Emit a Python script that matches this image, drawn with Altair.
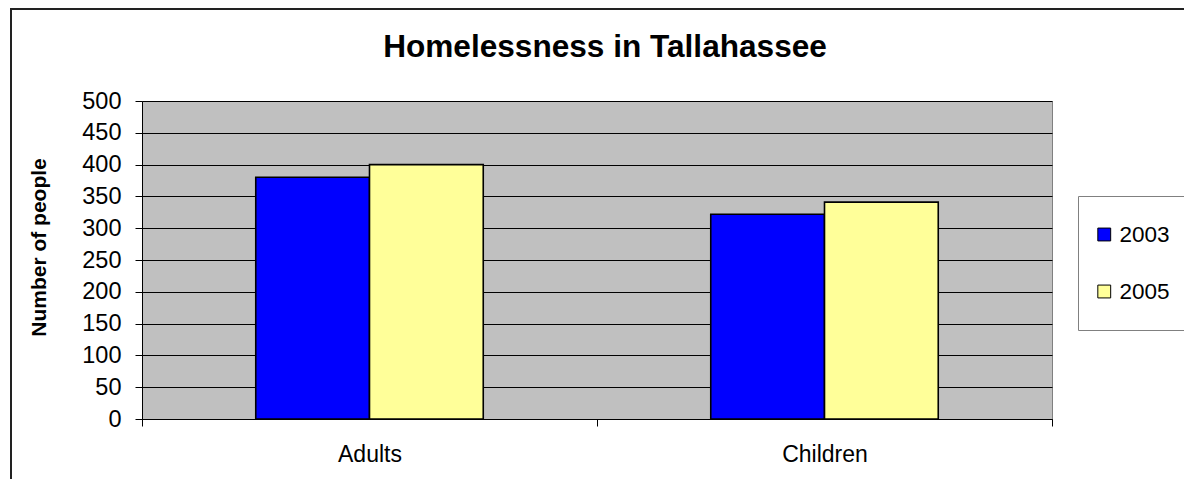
import altair as alt
import pandas as pd

groups = ["Adults", "Adults", "Children", "Children"]
years = ["2003", "2005", "2003", "2005"]
people = [380, 400, 322, 341]
group_order = ["Adults", "Children"]
year_domain = ["2003", "2005"]
year_colors = ["#0000ff", "#ffff99"]
y_ticks = [0, 50, 100, 150, 200, 250, 300, 350, 400, 450, 500]
chart_title = "Homelessness in Tallahassee"

df = pd.DataFrame({"group": groups, "year": years, "people": people})

FONT = "Liberation Sans"

bars = alt.Chart(df).mark_bar(stroke="black", strokeWidth=1.6).encode(
    x=alt.X(
        "group:N",
        sort=group_order,
        scale=alt.Scale(paddingInner=0, paddingOuter=0),
        axis=alt.Axis(
            title=None, labelAngle=0, labelFontSize=23, labelFont=FONT,
            labelColor="black", tickBand="extent", tickSize=7,
            tickColor="black", domainColor="black", labelPadding=17, grid=False,
        ),
    ),
    xOffset=alt.XOffset("year:N", sort=year_domain,
                        scale=alt.Scale(paddingInner=0, paddingOuter=1)),
    y=alt.Y(
        "people:Q",
        scale=alt.Scale(domain=[0, 500], nice=False),
        axis=alt.Axis(
            values=y_ticks, title="Number of people", titleFontSize=21,
            titleFont=FONT, titleFontWeight="bold", titleColor="black",
            titlePadding=32, titleY=146, labelFontSize=23.5, labelFont=FONT,
            labelColor="black", tickSize=7, tickColor="black",
            domainColor="black", gridColor="black", gridOpacity=1,
            gridWidth=1, labelPadding=14,
        ),
    ),
    color=alt.Color(
        "year:N",
        scale=alt.Scale(domain=year_domain, range=year_colors),
        legend=alt.Legend(
            title=None, orient="none", legendX=936, legendY=95,
            direction="vertical", symbolType="square", symbolSize=165,
            symbolStrokeColor="black", symbolStrokeWidth=1,
            labelFontSize=22.5, labelFont=FONT, labelColor="black",
            labelOffset=4, rowPadding=10, clipHeight=47, padding=15,
            fillColor="white", strokeColor="#808080",
        ),
    ),
)

one = alt.Data(values=[{"t": chart_title}])
frame_left = alt.Chart(one).mark_rule(stroke="#222222", strokeWidth=2).encode(
    x=alt.value(-131), y=alt.value(-92), y2=alt.value(400)
)
frame_top = alt.Chart(one).mark_rule(stroke="#222222", strokeWidth=2).encode(
    x=alt.value(-132), x2=alt.value(1050), y=alt.value(-92)
)
title = alt.Chart(one).mark_text(
    font=FONT, fontSize=31.6, fontWeight="bold", color="black",
    align="center", baseline="alphabetic",
).encode(text="t:N", x=alt.value(463), y=alt.value(-44))

chart = alt.layer(bars, frame_left, frame_top, title).properties(
    width=910,
    height=318,
    background="white",
    autosize=alt.AutoSizeParams(type="none"),
    padding={"left": 134, "top": 93, "right": 132, "bottom": 60},
).configure_view(
    fill="#c0c0c0", stroke="#808080", strokeWidth=1
)

chart.save("out.html", embed_options={"renderer": "svg", "actions": False})
